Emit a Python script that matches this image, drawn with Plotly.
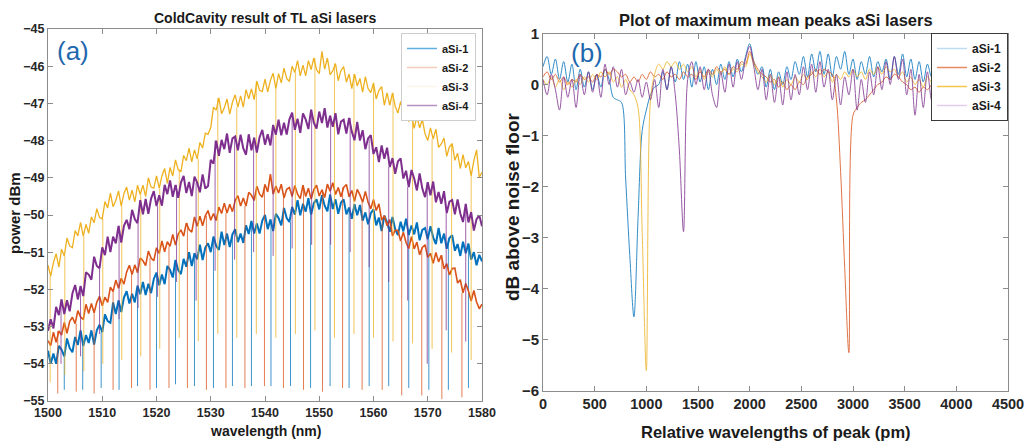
import plotly.graph_objects as go

W, H = 1027, 448
FONT = "Liberation Sans, Arial, Helvetica, sans-serif"

series_names = ["aSi-1", "aSi-2", "aSi-3", "aSi-4"]
line_colors = ["#0072BD", "#D95319", "#EDB120", "#7E2F8E"]
band_widths = [2.0, 1.6, 1.3, 2.0]
legend_colors_a = ["#62ADE0", "#F5CDB8", "#FBF6EA", "#B690C2"]
legend_colors_b = ["#BEDCF1", "#E98A60", "#F2C648", "#E3CDEE"]

# ---------------- panel (a): cold cavity spectra ----------------
wavelength_nm = [round(1500 + 0.5 * i, 1) for i in range(161)]

power_asi1 = [
    -53.65, -54.00, -53.72, -54.00, -53.52, -53.62, -53.80, -53.32,
    -53.58, -53.69, -53.28, -53.49, -53.10, -53.52, -53.23, -53.44,
    -53.10, -53.48, -53.10, -52.95, -53.15, -52.67, -52.85, -52.90,
    -52.35, -52.66, -52.30, -52.61, -52.22, -52.05, -52.38, -52.12,
    -52.35, -51.90, -52.13, -51.80, -52.15, -51.85, -52.10, -51.72,
    -51.55, -51.89, -51.60, -51.86, -51.37, -51.48, -51.68, -51.21,
    -51.48, -51.59, -51.18, -51.39, -51.00, -51.37, -51.03, -51.19,
    -50.80, -51.21, -50.88, -50.76, -51.00, -50.58, -50.83, -50.94,
    -50.45, -50.81, -50.50, -50.86, -50.52, -50.38, -50.73, -50.50,
    -50.75, -50.28, -50.51, -50.16, -50.50, -50.23, -50.50, -50.15,
    -50.00, -50.38, -50.12, -50.43, -49.97, -50.08, -50.28, -49.81,
    -50.08, -50.19, -49.78, -49.99, -49.60, -50.01, -49.70, -49.91,
    -49.55, -49.99, -49.68, -49.58, -49.85, -49.47, -49.75, -49.90,
    -49.45, -49.84, -49.58, -49.97, -49.67, -49.58, -49.98, -49.80,
    -50.10, -49.71, -50.01, -49.73, -50.15, -49.93, -50.25, -49.95,
    -49.85, -50.28, -50.07, -50.43, -50.02, -50.20, -50.45, -50.05,
    -50.38, -50.54, -50.18, -50.44, -50.10, -50.54, -50.28, -50.52,
    -50.20, -50.68, -50.40, -50.35, -50.65, -50.30, -50.60, -50.78,
    -50.35, -50.76, -50.50, -50.91, -50.62, -50.54, -50.96, -50.78,
    -51.10, -50.72, -51.03, -50.77, -51.20, -51.00, -51.35, -51.07,
    -51.25,
]
power_asi2 = [
    -53.38, -53.51, -53.15, -53.42, -53.12, -53.23, -52.89, -53.18,
    -52.86, -52.75, -52.92, -52.57, -52.74, -52.81, -52.40, -52.65,
    -52.38, -52.63, -52.34, -52.19, -52.44, -52.21, -52.35, -51.94,
    -52.06, -51.75, -51.97, -51.70, -51.86, -51.53, -51.35, -51.60,
    -51.34, -51.55, -51.16, -51.23, -51.36, -50.97, -51.16, -51.23,
    -50.88, -51.03, -50.70, -50.99, -50.72, -50.84, -50.52, -50.81,
    -50.51, -50.40, -50.57, -50.22, -50.39, -50.46, -50.05, -50.30,
    -50.03, -50.29, -50.02, -49.88, -50.14, -49.96, -50.15, -49.79,
    -49.96, -49.68, -49.95, -49.71, -49.91, -49.61, -49.48, -49.76,
    -49.54, -49.76, -49.39, -49.47, -49.61, -49.23, -49.44, -49.52,
    -49.18, -49.38, -48.90, -49.44, -49.22, -49.41, -49.17, -49.54,
    -49.31, -49.26, -49.50, -49.21, -49.44, -49.56, -49.20, -49.50,
    -49.28, -49.57, -49.32, -49.20, -49.49, -49.32, -49.53, -49.17,
    -49.36, -49.13, -49.45, -49.26, -49.51, -49.26, -49.18, -49.51,
    -49.34, -49.63, -49.31, -49.46, -49.66, -49.37, -49.66, -49.83,
    -49.58, -49.88, -49.70, -50.14, -50.02, -50.29, -50.12, -50.56,
    -50.41, -50.41, -50.70, -50.46, -50.74, -50.90, -50.58, -50.91,
    -50.73, -51.07, -50.87, -50.80, -51.14, -51.03, -51.30, -51.01,
    -51.26, -51.08, -51.45, -51.31, -51.61, -51.44, -51.43, -51.83,
    -51.74, -52.09, -51.84, -52.04, -52.31, -52.03, -52.34, -52.52,
    -52.40,
]
power_asi3 = [
    -51.35, -51.64, -51.28, -51.04, -51.40, -50.92, -51.10, -50.62,
    -50.83, -50.88, -50.42, -50.56, -50.20, -50.57, -50.25, -50.49,
    -50.05, -50.21, -49.83, -50.07, -50.10, -49.64, -49.81, -49.41,
    -49.78, -49.61, -49.35, -49.76, -49.42, -49.25, -49.60, -49.33,
    -49.65, -49.20, -49.45, -49.20, -49.50, -49.00, -49.25, -49.28,
    -48.95, -49.28, -48.95, -48.75, -49.15, -48.72, -48.95, -48.52,
    -48.78, -48.84, -48.40, -48.54, -48.20, -48.57, -48.25, -48.49,
    -48.05, -48.20, -47.80, -47.83, -47.65, -47.10, -47.18, -46.85,
    -47.28, -47.12, -46.88, -47.29, -46.97, -46.77, -47.10, -46.80,
    -47.10, -46.63, -46.88, -46.61, -46.90, -46.40, -46.65, -46.68,
    -46.35, -46.69, -46.38, -46.19, -46.60, -46.20, -46.45, -46.05,
    -46.33, -46.41, -46.00, -46.17, -45.85, -46.26, -45.97, -46.26,
    -45.85, -46.09, -45.78, -46.09, -46.20, -45.60, -46.08, -45.78,
    -46.23, -46.12, -45.93, -46.39, -46.12, -46.01, -46.43, -46.21,
    -46.60, -46.21, -46.53, -46.33, -46.70, -46.28, -46.60, -46.71,
    -46.45, -46.88, -46.65, -46.55, -47.05, -46.72, -47.05, -46.72,
    -47.08, -47.26, -46.95, -47.22, -47.00, -47.49, -47.30, -47.67,
    -47.35, -47.66, -47.43, -47.82, -48.00, -47.66, -47.96, -47.69,
    -48.18, -48.09, -47.93, -48.42, -48.17, -48.08, -48.53, -48.34,
    -48.75, -48.38, -48.73, -48.56, -48.95, -48.54, -48.25, -48.99,
    -48.85,
]
power_asi4 = [
    -53.11, -52.80, -53.05, -52.47, -52.69, -52.27, -52.66, -52.29,
    -52.59, -52.11, -51.88, -52.27, -51.91, -52.18, -51.54, -51.60,
    -51.74, -51.12, -51.37, -51.43, -50.87, -51.08, -50.58, -51.00,
    -50.58, -50.76, -50.29, -50.74, -50.29, -50.13, -50.38, -49.86,
    -50.11, -50.22, -49.60, -49.98, -49.57, -49.97, -49.56, -49.36,
    -49.76, -49.47, -49.75, -49.19, -49.44, -49.07, -49.51, -49.19,
    -49.54, -49.13, -48.95, -49.41, -49.11, -49.49, -48.97, -49.13,
    -49.39, -48.91, -49.29, -49.22, -48.52, -48.62, -48.00, -48.41,
    -47.98, -48.23, -47.81, -48.33, -47.94, -47.89, -48.26, -47.84,
    -48.21, -48.38, -47.83, -48.26, -47.92, -48.32, -47.91, -47.71,
    -48.11, -47.83, -48.13, -47.58, -47.84, -47.44, -47.86, -47.52,
    -47.84, -47.43, -47.25, -47.71, -47.41, -47.79, -47.27, -47.43,
    -47.69, -47.17, -47.52, -47.68, -47.22, -47.53, -47.13, -47.65,
    -47.33, -47.63, -47.26, -47.83, -47.49, -47.44, -47.81, -47.39,
    -47.76, -47.99, -47.50, -48.00, -47.72, -48.23, -47.94, -47.85,
    -48.36, -48.18, -48.58, -48.13, -48.49, -48.19, -48.71, -48.47,
    -48.89, -48.56, -48.48, -49.02, -48.81, -49.25, -48.79, -49.02,
    -49.34, -48.88, -49.29, -49.52, -49.12, -49.47, -49.10, -49.66,
    -49.38, -49.70, -49.36, -49.95, -49.64, -49.60, -49.98, -49.58,
    -49.96, -50.19, -49.70, -50.20, -49.92, -50.42, -50.11, -50.01,
    -50.30,
]

# narrow transmission dips (position nm, minimum dBm)
dip_nm_asi1 = [1503.0, 1506.4, 1509.8, 1513.1, 1516.5, 1520.0, 1523.5, 1527.0, 1530.5, 1534.0, 1537.5,
               1541.1, 1544.7, 1548.4, 1552.0, 1555.5, 1559.2, 1562.8, 1566.5, 1570.2, 1573.8, 1577.5]
dip_min_asi1 = [-54.70, -54.70, -54.65, -54.70, -54.60, -54.65, -54.55, -54.60, -54.65, -54.60, -54.60,
                -54.60, -54.60, -54.65, -54.60, -54.65, -54.60, -54.60, -54.65, -54.70, -54.70, -54.65]
dip_nm_asi2 = [1501.8, 1505.2, 1508.5, 1512.0, 1515.4, 1518.8, 1522.3, 1525.7, 1529.2, 1532.8, 1536.3,
               1539.9, 1543.4, 1547.1, 1550.6, 1554.3, 1557.9, 1561.6, 1565.2, 1568.9, 1572.6, 1576.3]
dip_min_asi2 = [-54.80, -54.75, -54.80, -54.70, -54.65, -54.70, -54.65, -54.65, -54.70, -54.65, -54.65,
                -54.60, -54.65, -54.70, -54.75, -54.65, -54.70, -54.70, -54.85, -54.85, -54.95, -54.90]
dip_nm_asi3 = [1500.4, 1503.1, 1506.6, 1510.1, 1513.6, 1517.1, 1520.6, 1524.2, 1527.7, 1531.3, 1534.8, 1538.4,
               1542.0, 1545.6, 1549.2, 1552.8, 1556.4, 1560.0, 1563.6, 1567.2, 1570.8, 1574.4, 1578.0]
dip_min_asi3 = [-54.50, -54.30, -54.20, -54.00, -53.90, -53.80, -53.60, -53.30, -53.40, -53.20, -53.30, -53.20,
                -53.30, -53.20, -53.10, -53.30, -53.20, -53.30, -53.40, -53.45, -53.60, -53.70, -53.90]
dip_nm_asi4 = [1502.4, 1506.0, 1509.5, 1513.1, 1516.6, 1520.2, 1523.7, 1527.3, 1530.8, 1534.4, 1537.9,
               1541.5, 1545.0, 1548.6, 1552.1, 1555.7, 1559.2, 1562.8, 1566.3, 1569.9, 1573.4, 1577.0]
dip_min_asi4 = [-54.00, -53.80, -53.20, -52.80, -52.50, -52.20, -51.80, -52.30, -51.50, -51.20, -51.00,
                -51.10, -50.90, -50.80, -50.80, -51.00, -51.40, -51.80, -52.30, -54.00, -53.10, -53.40]

# ---------------- panel (b): maximum mean peaks ----------------
rel_pm = list(range(0, 3881, 40))

peak_asi1 = [
    0.35, 0.55, 0.20, 0.50, 0.10, 0.45, 0.05, 0.40, -0.10, 0.30,
    -0.05, 0.25, -0.10, 0.20, -0.05, 0.30, 0.10, -0.25, -0.30, -0.35,
    -1.85, -3.35, -4.55, -2.60, -0.90, -0.50, -0.20, -0.05, 0.00, 0.25,
    -0.10, 0.35, 0.05, 0.45, 0.10, 0.40, -0.05, 0.45, 0.05, 0.35,
    -0.10, 0.30, 0.00, 0.40, 0.10, 0.45, 0.15, 0.50, 0.25, 0.55,
    0.80, 0.45, 0.20, 0.35, -0.05, 0.30, -0.10, 0.25, 0.00, 0.35,
    0.10, 0.45, 0.20, 0.55, 0.15, 0.60, 0.25, 0.65, 0.20, 0.60,
    0.15, 0.55, 0.30, 0.65, 0.20, 0.50, 0.10, 0.45, 0.20, 0.55,
    0.15, 0.45, 0.25, 0.50, 0.10, 0.55, 0.20, 0.60, 0.15, 0.50,
    0.10, 0.45, 0.05, 0.40, 0.15, 0.50, 0.00, 0.30,
]
peak_asi2 = [
    0.15, 0.25, 0.10, 0.20, 0.05, 0.15, 0.00, 0.10, 0.05, 0.20,
    0.10, 0.15, 0.05, 0.20, 0.15, 0.30, 0.20, 0.30, 0.25, 0.15,
    0.20, 0.05, 0.15, 0.05, 0.20, 0.10, 0.25, 0.15, 0.20, 0.10,
    0.25, 0.15, 0.20, 0.10, 0.25, 0.15, 0.20, 0.10, 0.25, 0.15,
    0.30, 0.20, 0.35, 0.25, 0.30, 0.20, 0.35, 0.30, 0.45, 0.40,
    0.65, 0.45, 0.30, 0.20, 0.15, 0.05, 0.10, -0.05, 0.05, -0.10,
    0.00, -0.10, 0.05, 0.00, 0.15, 0.20, 0.30, 0.20, 0.30, 0.25,
    0.20, -0.30, -1.70, -3.60, -5.25, -0.60, -0.45, -0.35, -0.30, -0.20,
    -0.10, 0.00, 0.05, 0.15, 0.10, 0.20, 0.15, 0.05, 0.00, -0.10,
    -0.05, -0.15, -0.05, -0.10, 0.00, 0.10, 0.20, 0.15,
]
peak_asi3 = [
    0.10, 0.00, 0.15, -0.05, 0.10, -0.10, 0.05, -0.05, 0.10, 0.00,
    0.15, 0.05, 0.20, 0.10, 0.25, 0.15, 0.25, 0.05, 0.15, -0.05,
    0.10, -0.10, -0.20, -0.45, -2.90, -5.60, -0.30, 0.20, 0.40, 0.30,
    0.45, 0.35, 0.45, 0.30, 0.40, 0.25, 0.35, 0.15, 0.30, 0.10,
    0.25, 0.15, 0.30, 0.20, 0.35, 0.20, 0.30, 0.25, 0.40, 0.35,
    0.60, 0.40, 0.25, 0.15, 0.05, 0.20, 0.00, 0.15, -0.05, 0.10,
    0.00, 0.15, 0.05, 0.20, 0.10, 0.25, 0.15, 0.30, 0.15, 0.25,
    0.05, 0.20, 0.10, 0.25, 0.15, 0.30, 0.15, 0.25, 0.10, 0.30,
    0.20, 0.35, 0.20, 0.35, 0.25, 0.30, 0.15, 0.25, 0.05, 0.15,
    0.00, 0.10, -0.05, 0.15, 0.05, 0.20, 0.30, 0.25,
]
peak_asi4 = [
    0.10, -0.20, 0.20, -0.10, -0.50, 0.15, -0.25, 0.10, -0.45, 0.20,
    -0.20, 0.25, -0.15, 0.20, -0.25, 0.40, 0.00, 0.35, -0.05, 0.30,
    -0.20, 0.05, -0.15, 0.10, -0.25, 0.05, -0.30, 0.10, -0.45, 0.30,
    -0.10, 0.35, -0.20, -1.30, -2.88, 0.10, 0.45, 0.00, 0.35, -0.10,
    0.30, -0.20, -0.45, 0.25, -0.15, 0.40, -0.05, 0.45, 0.10, 0.50,
    0.75, 0.35, -0.10, 0.30, -0.30, 0.20, -0.35, 0.15, -0.40, 0.25,
    -0.30, 0.20, -0.20, 0.35, -0.10, 0.40, -0.15, 0.45, -0.05, 0.30,
    -0.30, 0.20, -0.40, 0.15, -0.20, 0.30, -0.50, 0.10, -0.35, 0.25,
    -0.20, 0.35, -0.10, 0.45, 0.00, 0.55, 0.10, 0.50, -0.20, 0.30,
    -0.60, 0.20, -0.45, 0.25, -0.30, 0.30, -0.40, 0.10,
]

power_series = [power_asi1, power_asi2, power_asi3, power_asi4]
dip_nm = [dip_nm_asi1, dip_nm_asi2, dip_nm_asi3, dip_nm_asi4]
dip_min = [dip_min_asi1, dip_min_asi2, dip_min_asi3, dip_min_asi4]
peak_series = [peak_asi1, peak_asi2, peak_asi3, peak_asi4]


def dip_segments(base, positions, minima):
    xs, ys = [], []
    for w, m in zip(positions, minima):
        i = min(range(len(wavelength_nm)), key=lambda k: abs(wavelength_nm[k] - w))
        xs += [w, w, None]
        ys += [base[i], m, None]
    return xs, ys


fig = go.Figure()

for name, col, bw, base, dn, dm in zip(series_names, line_colors, band_widths,
                                       power_series, dip_nm, dip_min):
    fig.add_trace(go.Scatter(x=wavelength_nm, y=base, mode="lines", name=name,
                             line=dict(color=col, width=bw), showlegend=False,
                             xaxis="x", yaxis="y"))
    dx, dy = dip_segments(base, dn, dm)
    fig.add_trace(go.Scatter(x=dx, y=dy, mode="lines", name=name, opacity=0.75,
                             line=dict(color=col, width=1), showlegend=False,
                             xaxis="x", yaxis="y"))

for name, col, vals in zip(series_names, line_colors, peak_series):
    fig.add_trace(go.Scatter(x=rel_pm, y=vals, mode="lines", name=name,
                             line=dict(color=col, width=1, shape="spline", smoothing=0.9),
                             opacity=0.8, showlegend=False, xaxis="x2", yaxis="y2"))

# legend entries
for name, col in zip(series_names, legend_colors_a):
    fig.add_trace(go.Scatter(x=[None], y=[None], mode="lines", name=name,
                             line=dict(color=col, width=1.5), legend="legend",
                             xaxis="x", yaxis="y"))
for name, col in zip(series_names, legend_colors_b):
    fig.add_trace(go.Scatter(x=[None], y=[None], mode="lines", name=name,
                             line=dict(color=col, width=1.5), legend="legend2",
                             xaxis="x2", yaxis="y2"))

def axis_style(size):
    return dict(showline=True, linecolor="#8c8c8c", linewidth=1, mirror="ticks",
                ticks="inside", ticklen=5, tickcolor="#8c8c8c", showgrid=False,
                zeroline=False, automargin=False,
                tickfont=dict(family=FONT, size=size, color="#262626", weight="bold"))

fig.update_layout(
    template="none",
    width=W, height=H,
    margin=dict(l=0, r=0, t=0, b=0, pad=0),
    paper_bgcolor="white", plot_bgcolor="white",
    xaxis=dict(domain=[48 / W, 482 / W], range=[1500, 1580], tick0=1500, dtick=10,
               anchor="y", **axis_style(12.5)),
    yaxis=dict(domain=[1 - 401 / H, 1 - 29 / H], range=[-55, -45], dtick=1,
               anchor="x", **axis_style(12.5)),
    xaxis2=dict(domain=[543 / W, 1008 / W], range=[0, 4500], tick0=0, dtick=500,
                anchor="y2", **axis_style(14.5)),
    yaxis2=dict(domain=[1 - 391 / H, 1 - 33.5 / H], range=[-6, 1], dtick=1,
                anchor="x2", **axis_style(15)),
    legend=dict(x=476 / W, y=1 - 33 / H, xanchor="right", yanchor="top",
                bgcolor="white", bordercolor="#cdcdcd", borderwidth=1,
                font=dict(family=FONT, size=11, color="#1a1a1a", weight="bold"),
                tracegroupgap=0, itemwidth=30),
    legend2=dict(x=1008 / W, y=1 - 33 / H, xanchor="right", yanchor="top",
                 bgcolor="white", bordercolor="#3a3a3a", borderwidth=1,
                 font=dict(family=FONT, size=12, color="#1a1a1a", weight="bold"),
                 tracegroupgap=0, itemwidth=30),
)

def label(text, x, y, size, angle=0, color="#1a1a1a", weight="bold"):
    fig.add_annotation(text=text, x=x / W, y=1 - y / H, xref="paper", yref="paper",
                       showarrow=False, textangle=angle, xanchor="center", yanchor="middle",
                       font=dict(family=FONT, size=size, color=color, weight=weight))

label("ColdCavity result of TL aSi lasers", 265, 18, 14)
label("Plot of maximum mean peaks aSi lasers", 776, 20, 16.5)
label("wavelength (nm)", 265, 431, 14)
label("Relative wavelengths of peak (pm)", 776, 432, 16.5)
label("power dBm", 14, 213, 15, angle=-90)
label("dB above noise floor", 512, 207, 19, angle=-90)
label("(a)", 72.5, 51, 26, color="#1F68AE", weight="normal")
label("(b)", 587, 52.5, 26, color="#1F68AE", weight="normal")

fig.write_html("out.html")
